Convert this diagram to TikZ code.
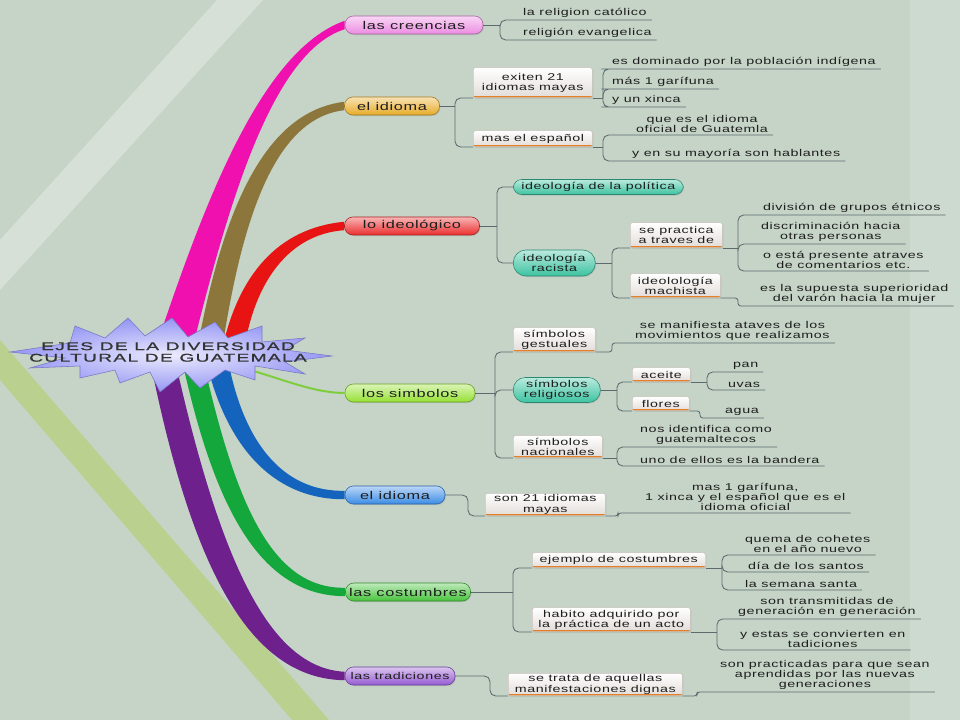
\documentclass[tikz,border=0pt]{standalone}
\usepackage{fontspec}
\setmainfont{Liberation Sans}[FakeStretch=1.45, LetterSpace=6]
\newfontfamily\titlefont{Liberation Sans}[FakeStretch=1.7, LetterSpace=12, FakeBold=1.2]
\usetikzlibrary{shadows}

\definecolor{bgc}{RGB}{197,212,199}
\definecolor{bgright}{RGB}{205,218,207}
\definecolor{bandc}{RGB}{186,208,142}
\definecolor{linec}{RGB}{92,106,110}
\definecolor{orangec}{RGB}{228,128,40}
\definecolor{boxbot}{RGB}{226,220,216}
\definecolor{boxedge}{RGB}{200,192,186}
\definecolor{textc}{RGB}{30,30,30}
\definecolor{starc}{RGB}{150,150,245}
\definecolor{magc}{RGB}{240,16,176}
\definecolor{olivec}{RGB}{140,118,60}
\definecolor{rribc}{RGB}{232,20,20}
\definecolor{lribc}{RGB}{125,205,60}
\definecolor{bribc}{RGB}{20,100,190}
\definecolor{gribc}{RGB}{20,168,60}
\definecolor{pribc}{RGB}{110,32,140}
\definecolor{pinkc}{RGB}{236,140,226}
\definecolor{yellowc}{RGB}{232,172,40}
\definecolor{redc}{RGB}{235,45,45}
\definecolor{limec}{RGB}{150,225,50}
\definecolor{bluec}{RGB}{60,140,230}
\definecolor{greenc}{RGB}{70,195,60}
\definecolor{purplec}{RGB}{150,90,210}
\definecolor{tealc}{RGB}{60,195,160}

\begin{document}
\begin{tikzpicture}[
    x=0.025cm, y=-0.025cm, text=textc,
    pill/.style={rectangle, rounded corners=6pt, draw=#1!70!black, top color=#1!35!white, bottom color=#1, minimum height=0.45cm, inner sep=1pt, font=\fontsize{8}{9}\selectfont, drop shadow={opacity=0.25, shadow xshift=0.6pt, shadow yshift=-0.8pt}},
    oval/.style={pill=tealc, anchor=west, align=center, font=\fontsize{7}{7.4}\selectfont},
    topic/.style={rectangle, rounded corners=1.5pt, draw=boxedge, top color=white, bottom color=boxbot, anchor=south west, align=center, inner sep=1pt, font=\fontsize{7}{7.4}\selectfont, drop shadow={opacity=0.2, shadow xshift=0.8pt, shadow yshift=-0.8pt}, path picture={\draw[orangec, line width=2.8pt] (path picture bounding box.south west) -- (path picture bounding box.south east);}},
    leaf/.style={anchor=south west, align=center, inner xsep=3.5pt, inner ysep=1.5pt, font=\fontsize{7}{7.2}\selectfont},
    link/.style={draw=linec, line width=0.6pt, rounded corners=4pt},
    title/.style={align=center, text=black!80, font=\titlefont\fontsize{8}{8.2}\selectfont}
]
\fill[bgc] (0,0) rectangle (960,720);
\fill[bgright] (910,0) rectangle (960,720);
\fill[white, opacity=0.3] (217,0) -- (263,0) -- (0,290) -- (0,240) -- cycle;
\fill[bandc] (0,340) -- (329,720) -- (292,720) -- (0,380) -- cycle;
\useasboundingbox (0,0) rectangle (960,720);

\node[pill=pinkc, minimum width=3.45cm] (creen) at (414,25) {las creencias};
\node[leaf] (catol) at (518,20) {la religion católico};
\node[leaf] (evang) at (518,40) {religión evangelica};
\coordinate (creenj) at (500,25);

\node[pill=yellowc, minimum width=2.375cm] (idio) at (392,106) {el idioma};
\node[topic, minimum width=2.975cm, minimum height=0.75cm] (mayas) at (473,98) {exiten 21\\idiomas mayas};
\node[topic, minimum width=2.975cm, minimum height=0.4cm] (espa) at (473,147) {mas el español};
\node[leaf] (domin) at (607,69) {es dominado por la población indígena};
\node[leaf] (garif) at (607,89) {más 1 garífuna};
\node[leaf] (xinca) at (607,107) {y un xinca};
\node[leaf] (ofic) at (631,135) {que es el idioma\\oficial de Guatemla};
\node[leaf] (habl) at (627,161) {y en su mayoría son hablantes};
\coordinate (idioj) at (455,106);
\coordinate (mayasj) at (603,98);
\coordinate (espaj) at (603,147);

\node[pill=redc, minimum width=3.375cm] (ideo) at (412,226) {lo ideológico};
\node[oval, minimum width=4.25cm, minimum height=0.375cm] (polit) at (513,187) {ideología de la política};
\node[oval, minimum width=2.05cm, minimum height=0.65cm, rounded corners=9pt] (racis) at (513,263) {ideología\\racista};
\node[topic, minimum width=2.3cm, minimum height=0.625cm] (pract) at (630,248) {se practica\\a traves de};
\node[topic, minimum width=2.25cm, minimum height=0.6cm] (mach) at (630,298) {ideolología\\machista};
\node[leaf] (divis) at (758,215) {división de grupos étnicos};
\node[leaf] (discr) at (756,244) {discriminación hacia\\otras personas};
\node[leaf] (coment) at (758,271) {o está presente atraves\\de comentarios etc.};
\node[leaf] (super) at (755,306) {es la supuesta superioridad\\del varón hacia la mujer};
\coordinate (ideoj) at (497,226);
\coordinate (racisj) at (612,263);
\coordinate (practj) at (738,248);
\coordinate (machj) at (738,298);

\node[pill=limec, minimum width=3.25cm] (simb) at (410,393) {los simbolos};
\node[topic, minimum width=2.05cm, minimum height=0.6cm] (gest) at (513,352) {símbolos\\gestuales};
\node[oval, minimum width=2.175cm, minimum height=0.625cm, rounded corners=8.5pt] (relig) at (513,390) {símbolos\\religiosos};
\node[topic, minimum width=2.225cm, minimum height=0.55cm] (nacio) at (513,458) {símbolos\\nacionales};
\node[topic, minimum width=1.45cm, minimum height=0.35cm] (aceit) at (632,382) {aceite};
\node[topic, minimum width=1.425cm, minimum height=0.35cm] (flor) at (632,411) {flores};
\node[leaf] (movim) at (630,343) {se manifiesta ataves de los\\movimientos que realizamos};
\node[leaf] (pan) at (728,372) {pan};
\node[leaf] (uvas) at (723,390) {uvas};
\node[leaf] (agua) at (720,418) {agua};
\node[leaf] (ident) at (635,447) {nos identifica como\\guatemaltecos};
\node[leaf] (bander) at (635,466) {uno de ellos es la bandera};
\coordinate (simbj) at (495,393);
\coordinate (gestj) at (612,352);
\coordinate (religj) at (617,390);
\coordinate (aceitj) at (707,382);
\coordinate (florj) at (700,411);
\coordinate (nacioj) at (617,458);

\node[pill=bluec, minimum width=2.5cm] (idio2) at (395,495) {el idioma};
\node[topic, minimum width=3cm, minimum height=0.525cm] (son21) at (485,516) {son 21 idiomas\\mayas};
\node[leaf] (xinc2) at (640,513) {mas 1 garífuna,\\1 xinca y el español que es el\\idioma oficial};
\coordinate (idio2j) at (468,495);
\coordinate (son21j) at (618,516);

\node[pill=greenc, minimum width=3.125cm] (cost) at (408,592) {las costumbres};
\node[topic, minimum width=4.325cm, minimum height=0.375cm] (ejem) at (532,568) {ejemplo de costumbres};
\node[topic, minimum width=3.95cm, minimum height=0.6cm] (habit) at (532,632) {habito adquirido por\\la práctica de un acto};
\node[leaf] (cohet) at (740,555) {quema de cohetes\\en el año nuevo};
\node[leaf] (santos) at (743,572) {día de los santos};
\node[leaf] (seman) at (740,590) {la semana santa};
\node[leaf] (transm) at (733,619) {son transmitidas de\\generación en generación};
\node[leaf] (convi) at (735,650) {y estas se convierten en\\tadiciones};
\coordinate (costj) at (513,592);
\coordinate (ejemj) at (722,568);
\coordinate (habitj) at (717,632);

\node[pill=purplec, minimum width=2.75cm, font=\fontsize{7}{8}\selectfont] (trad) at (400,676) {las tradiciones};
\node[topic, minimum width=4.35cm, minimum height=0.55cm] (digna) at (508,696) {se trata de aquellas\\manifestaciones dignas};
\node[leaf] (aprend) at (715,692) {son practicadas para que sean\\aprendidas por las nuevas\\generaciones};
\coordinate (tradj) at (490,676);
\coordinate (dignaj) at (697,696);

\draw[link] (creen) -- (creenj);
\draw[link] (creenj) |- (catol.south west) -- (catol.south east);
\draw[link] (creenj) |- (evang.south west) -- (evang.south east);

\draw[link] (idio) -- (idioj);
\draw[link] (idioj) |- (mayas.south west);
\draw[link] (idioj) |- (espa.south west);
\draw[link] (mayas.south east) -- (mayasj);
\draw[link] (mayasj) |- (domin.south west) -- (domin.south east);
\draw[link] (mayasj) |- (garif.south west) -- (garif.south east);
\draw[link] (mayasj) |- (xinca.south west) -- (xinca.south east);
\draw[link] (espa.south east) -- (espaj);
\draw[link] (espaj) |- (ofic.south west) -- (ofic.south east);
\draw[link] (espaj) |- (habl.south west) -- (habl.south east);

\draw[link] (ideo) -- (ideoj);
\draw[link] (ideoj) |- (polit.west);
\draw[link] (ideoj) |- (racis.west);
\draw[link] (racis) -- (racisj);
\draw[link] (racisj) |- (pract.south west);
\draw[link] (racisj) |- (mach.south west);
\draw[link] (pract.south east) -- (practj);
\draw[link] (practj) |- (divis.south west) -- (divis.south east);
\draw[link] (practj) |- (discr.south west) -- (discr.south east);
\draw[link] (practj) |- (coment.south west) -- (coment.south east);
\draw[link, rounded corners=2pt] (mach.south east) -- (machj) |- (super.south west) -- (super.south east);

\draw[link] (simb) -- (simbj);
\draw[link] (simbj) |- (gest.south west);
\draw[link] (simbj) |- (relig.west);
\draw[link] (simbj) |- (nacio.south west);
\draw[link, rounded corners=2pt] (gest.south east) -- (gestj) |- (movim.south west) -- (movim.south east);
\draw[link] (relig) -- (religj);
\draw[link] (religj) |- (aceit.south west);
\draw[link] (religj) |- (flor.south west);
\draw[link] (aceit.south east) -- (aceitj);
\draw[link] (aceitj) |- (pan.south west) -- (pan.south east);
\draw[link] (aceitj) |- (uvas.south west) -- (uvas.south east);
\draw[link, rounded corners=2pt] (flor.south east) -- (florj) |- (agua.south west) -- (agua.south east);
\draw[link] (nacio.south east) -- (nacioj);
\draw[link] (nacioj) |- (ident.south west) -- (ident.south east);
\draw[link] (nacioj) |- (bander.south west) -- (bander.south east);

\draw[link] (idio2) -- (idio2j) |- (son21.south west);
\draw[link, rounded corners=2pt] (son21.south east) -- (son21j) |- (xinc2.south west) -- (xinc2.south east);

\draw[link] (cost) -- (costj);
\draw[link] (costj) |- (ejem.south west);
\draw[link] (costj) |- (habit.south west);
\draw[link] (ejem.south east) -- (ejemj);
\draw[link] (ejemj) |- (cohet.south west) -- (cohet.south east);
\draw[link] (ejemj) |- (santos.south west) -- (santos.south east);
\draw[link] (ejemj) |- (seman.south west) -- (seman.south east);
\draw[link] (habit.south east) -- (habitj);
\draw[link] (habitj) |- (transm.south west) -- (transm.south east);
\draw[link] (habitj) |- (convi.south west) -- (convi.south east);

\draw[link] (trad) -- (tradj) |- (digna.south west);
\draw[link, rounded corners=2pt] (digna.south east) -- (dignaj) |- (aprend.south west) -- (aprend.south east);

\fill[magc] (155,350) .. controls (205,200) and (262,50) .. ([yshift=3pt]creen.west) -- ([yshift=-3pt]creen.west) .. controls (272,52) and (228,205) .. (192,350) -- cycle;
\fill[olivec] (197,350) .. controls (222,215) and (262,112) .. ([yshift=3pt]idio.west) -- ([yshift=-3pt]idio.west) .. controls (275,118) and (242,218) .. (222,350) -- cycle;
\fill[rribc] (222,350) .. controls (238,275) and (278,228) .. ([yshift=3pt]ideo.west) -- ([yshift=-3pt]ideo.west) .. controls (290,234) and (255,280) .. (244,350) -- cycle;
\draw[lribc, line width=1.4pt] (250,370) .. controls (285,380) and (315,393) .. (simb.west);
\fill[bribc] (228,360) .. controls (245,450) and (288,492) .. ([yshift=3pt]idio2.west) -- ([yshift=-3pt]idio2.west) .. controls (280,500) and (228,455) .. (206,360) -- cycle;
\fill[gribc] (203,360) .. controls (236,505) and (272,589) .. ([yshift=3pt]cost.west) -- ([yshift=-3pt]cost.west) .. controls (262,596) and (215,512) .. (182,360) -- cycle;
\fill[pribc] (175,360) .. controls (222,570) and (272,668) .. ([yshift=3pt]trad.west) -- ([yshift=-3pt]trad.west) .. controls (250,679) and (192,570) .. (150,360) -- cycle;

\shadedraw[draw=starc!80!black, line width=0.4pt, inner color=starc!20!white, outer color=starc] (10,352) -- (70,343) -- (75,326) -- (105,338) -- (128,318) -- (145,336) -- (172,318) -- (188,337) -- (215,322) -- (228,338) -- (262,326) -- (262,342) -- (305,338) -- (285,350) -- (332,356) -- (285,362) -- (305,374) -- (255,366) -- (255,380) -- (225,370) -- (200,388) -- (185,372) -- (160,392) -- (150,372) -- (120,383) -- (115,370) -- (80,378) -- (80,366) -- (30,368) -- (65,358) -- cycle;
\node[title] (root) at (168,352) {EJES DE LA DIVERSIDAD\\CULTURAL DE GUATEMALA};
\end{tikzpicture}
\end{document}
